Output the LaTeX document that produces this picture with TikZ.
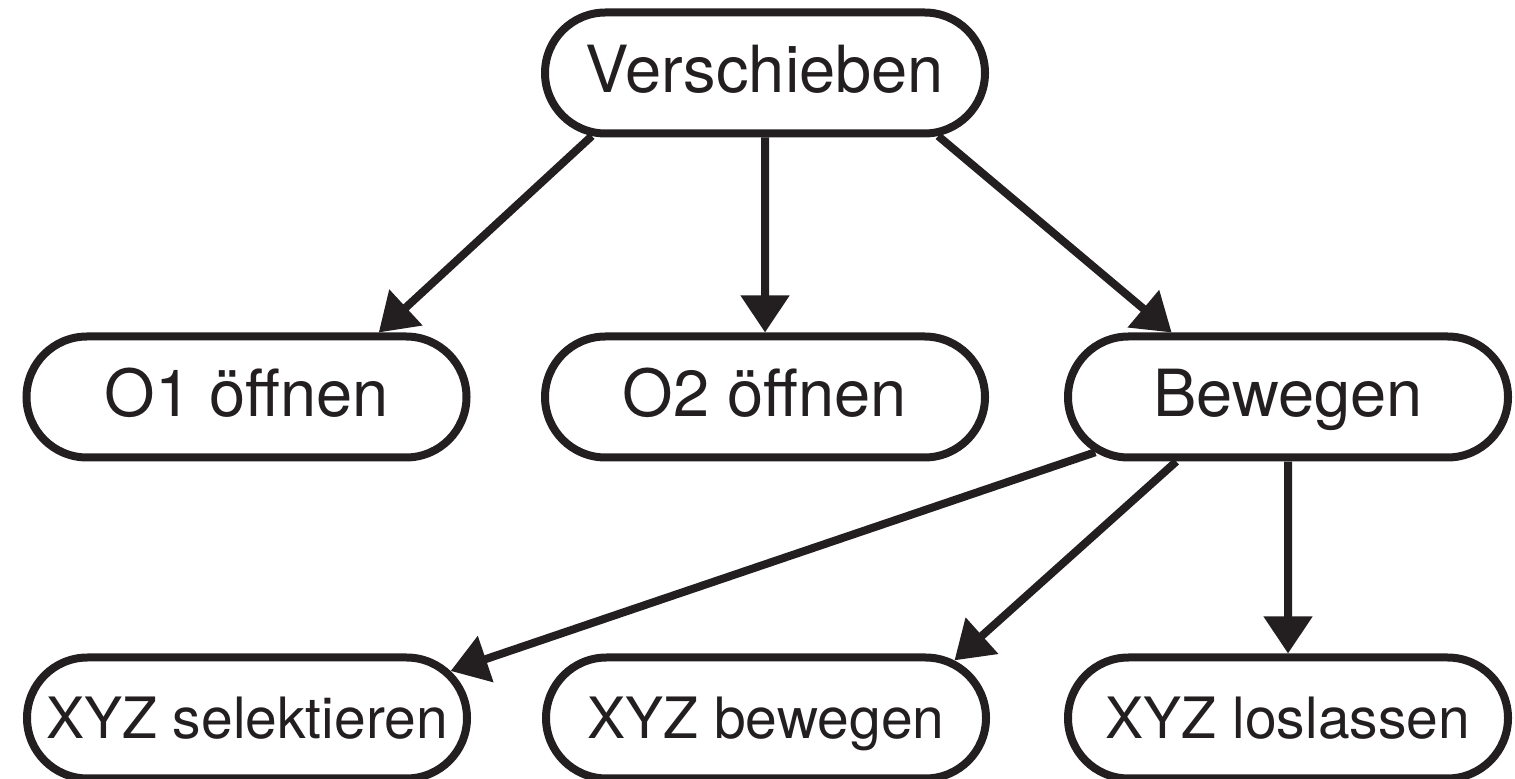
\documentclass[tikz,border=0pt]{standalone}
\usepackage{fontspec}
\setmainfont{TeX Gyre Heros}
\usepackage{tikz}
\usetikzlibrary{shapes.misc,arrows.meta}

\definecolor{ink}{HTML}{231F20}

\tikzset{
  task/.style={rounded rectangle, draw=ink, text=ink, line width=4pt,
    minimum width=178pt, minimum height=60.5pt, inner xsep=-21pt, inner ysep=0pt,
    font=\fontsize{32.5}{39}\selectfont, text height=25pt, text depth=5pt},
  subtask/.style={task, font=\fontsize{28.5}{34}\selectfont, text height=24pt, text depth=3pt},
  arr/.style={draw=ink, line width=4pt, -{Triangle[length=18.5pt,width=23.5pt]}}
}

\begin{document}
\begin{tikzpicture}[x=0.5pt,y=-0.5pt]

\useasboundingbox (0,0) rectangle (1515,779);

\node[task] (ver) at (765,73) {Verschieben};

\node[task] (o1) at (246.5,397) {O1 öffnen};

\node[task] (o2) at (765,397) {O2 öffnen};

\node[task] (bew) at (1288,397) {Bewegen};

\node[subtask] (sel) at (247,718) {XYZ selektieren};

\node[subtask] (xbew) at (766,718) {XYZ bewegen};

\node[subtask] (los) at (1288,718) {XYZ loslassen};


\draw[arr] (ver.200) -- (o1.26);
\draw[arr] (ver) -- (o2);
\draw[arr] (ver.-20) -- (bew.151);
\draw[arr] (bew.196) -- (sel.13);
\draw[arr] (bew.210) -- (xbew.17);
\draw[arr] (bew) -- (los);


\end{tikzpicture}
\end{document}
